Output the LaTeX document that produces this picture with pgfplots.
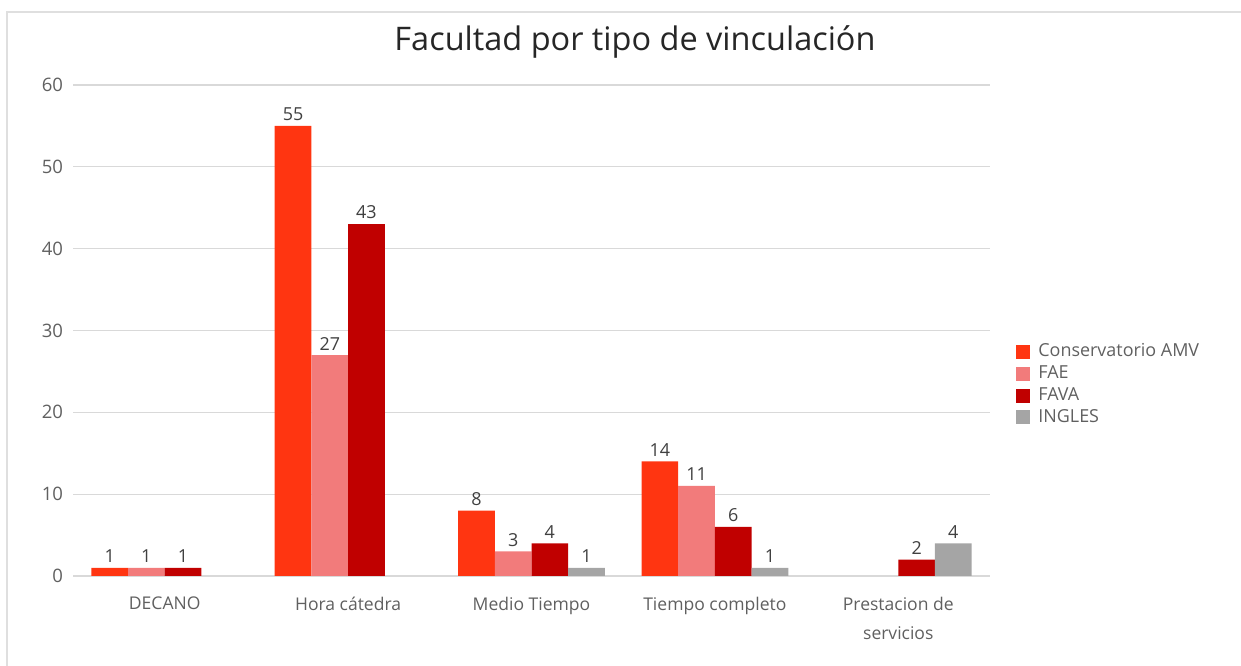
\documentclass[border=0pt]{standalone}
\usepackage{fontspec}
\setmainfont{Open Sans}
\usepackage{pgfplots}
\pgfplotsset{compat=1.18}
\definecolor{cons}{HTML}{FF3511}
\definecolor{fae}{HTML}{F27B7B}
\definecolor{fava}{HTML}{C00000}
\definecolor{ingles}{HTML}{A5A5A5}
\definecolor{txt}{HTML}{606060}
\definecolor{lbl}{HTML}{404040}
\definecolor{gridc}{HTML}{D9D9D9}
\begin{document}
\begin{tikzpicture}
\path[use as bounding box] (0,0) rectangle (620.5bp,333bp);
\draw[gray!25,line width=0.6bp] (3.5bp,0bp) -- (3.5bp,327bp) -- (620.5bp,327bp);
\node[font=\fontsize{16.3}{18}\selectfont,text=black!85] at (317.5bp,312bp) {Facultad por tipo de vinculación};
\begin{axis}[
  at={(36.5bp,45bp)},anchor=south west,
  scale only axis,width=458.5bp,height=245.5bp,
  ybar=0pt,bar width=0.2,
  xmin=-0.5,xmax=4.5,ymin=0,ymax=60,
  xtick={0,1,2,3,4},
  xticklabels={{DECANO},{Hora cátedra},{Medio Tiempo},{Tiempo completo},{Prestacion de\\servicios}},
  xticklabel style={align=center,font=\fontsize{8.8}{14.5}\selectfont,text=txt,yshift=-7bp},
  ytick={0,10,...,60},
  yticklabel style={font=\fontsize{9.3}{10}\selectfont,text=txt,xshift=-1.5bp},
  /pgf/number format/assume math mode=true,
  major tick length=0pt,
  axis line style={draw=none},
  ymajorgrids,grid style={gridc,line width=0.6bp},
  nodes near coords,
  every node near coord/.append style={font=\fontsize{9}{10}\selectfont,text=lbl,yshift=-1bp},
  legend style={at={(1,0.39)},anchor=west,xshift=13bp,draw=none,fill=none,
    font=\fontsize{9}{10}\selectfont,text=txt,row sep=-1.0bp,inner sep=0pt},
  legend cell align=left,
  legend image code/.code={\fill[#1] (0bp,-3.5bp) rectangle (7bp,3.5bp);\path (9bp,0bp);},
]
\addplot[fill=cons,draw=none] coordinates {(0,1) (1,55) (2,8) (3,14)};
\addplot[fill=fae,draw=none] coordinates {(0,1) (1,27) (2,3) (3,11)};
\addplot[fill=fava,draw=none] coordinates {(0,1) (1,43) (2,4) (3,6) (4,2)};
\addplot[fill=ingles,draw=none] coordinates {(2,1) (3,1) (4,4)};
\legend{Conservatorio AMV,FAE,FAVA,INGLES}
\end{axis}
\end{tikzpicture}
\end{document}
